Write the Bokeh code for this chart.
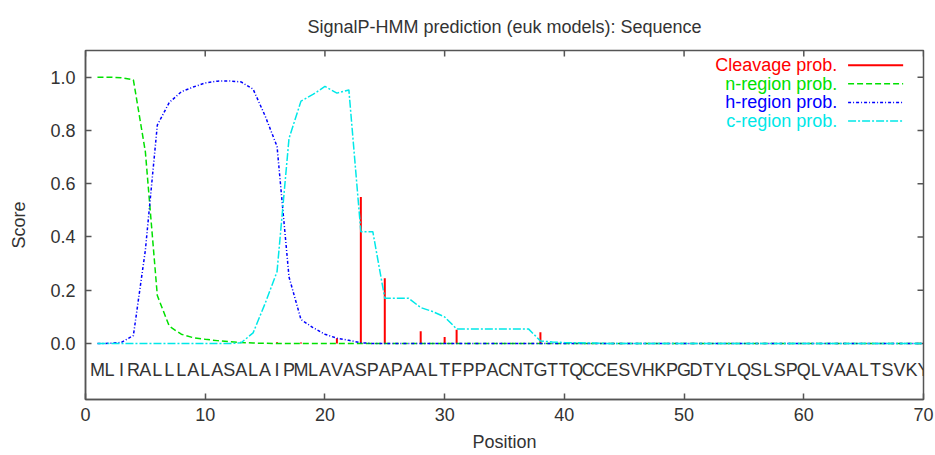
from bokeh.plotting import figure
from bokeh.models import FixedTicker, PrintfTickFormatter, ColumnDataSource
from bokeh.core.properties import value
from bokeh.embed import file_html
from bokeh.resources import INLINE

# ---------------- data ----------------
title_text = "SignalP-HMM prediction (euk models): Sequence"
sequence = list("MLIRALLLALASALAIPMLAVASPAPAALTFPPACNTGTTQCCESVHKPGDTYLQSLSPQLVAALTSVKY")
positions = list(range(1, 71))

cleavage = [0.0, 0.0, 0.0, 0.0, 0.0, 0.0, 0.0, 0.0, 0.0, 0.0,
            0.0, 0.0, 0.0, 0.0, 0.0, 0.005, 0.0, 0.004, 0.0, 0.0,
            0.02, 0.0, 0.55, 0.0, 0.245, 0.0, 0.0, 0.046, 0.0, 0.025,
            0.052, 0.0, 0.0, 0.0, 0.0, 0.0, 0.0, 0.042, 0.0, 0.0,
            0.0, 0.0, 0.0, 0.0, 0.0, 0.0, 0.0, 0.0, 0.0, 0.0,
            0.0, 0.0, 0.0, 0.0, 0.0, 0.0, 0.0, 0.0, 0.0, 0.0,
            0.0, 0.0, 0.0, 0.0, 0.0, 0.0, 0.0, 0.0, 0.0, 0.0]

n_region = [1.0, 1.0, 0.998, 0.99, 0.72, 0.18, 0.065, 0.035, 0.022, 0.016,
            0.011, 0.007, 0.004, 0.002, 0.001, 0.0, 0.0, 0.0, 0.0, 0.0,
            0.0, 0.0, 0.0, 0.0, 0.0, 0.0, 0.0, 0.0, 0.0, 0.0,
            0.0, 0.0, 0.0, 0.0, 0.0, 0.0, 0.0, 0.0, 0.0, 0.0,
            0.0, 0.0, 0.0, 0.0, 0.0, 0.0, 0.0, 0.0, 0.0, 0.0,
            0.0, 0.0, 0.0, 0.0, 0.0, 0.0, 0.0, 0.0, 0.0, 0.0,
            0.0, 0.0, 0.0, 0.0, 0.0, 0.0, 0.0, 0.0, 0.0, 0.0]

h_region = [0.0, 0.001, 0.004, 0.03, 0.35, 0.82, 0.905, 0.945, 0.963, 0.978,
            0.985, 0.986, 0.982, 0.955, 0.855, 0.74, 0.25, 0.09, 0.06, 0.035,
            0.02, 0.012, 0.003, 0.0, 0.0, 0.0, 0.0, 0.0, 0.0, 0.0,
            0.0, 0.0, 0.0, 0.0, 0.0, 0.0, 0.0, 0.0, 0.0, 0.0,
            0.0, 0.0, 0.0, 0.0, 0.0, 0.0, 0.0, 0.0, 0.0, 0.0,
            0.0, 0.0, 0.0, 0.0, 0.0, 0.0, 0.0, 0.0, 0.0, 0.0,
            0.0, 0.0, 0.0, 0.0, 0.0, 0.0, 0.0, 0.0, 0.0, 0.0]

c_region = [0.0, 0.0, 0.0, 0.0, 0.0, 0.0, 0.0, 0.0, 0.0, 0.0,
            0.0, 0.0, 0.003, 0.04, 0.15, 0.27, 0.77, 0.91, 0.935, 0.965,
            0.94, 0.952, 0.42, 0.42, 0.17, 0.17, 0.17, 0.135, 0.12, 0.10,
            0.055, 0.055, 0.055, 0.055, 0.055, 0.055, 0.055, 0.01, 0.006, 0.004,
            0.003, 0.002, 0.001, 0.0, 0.0, 0.0, 0.0, 0.0, 0.0, 0.0,
            0.0, 0.0, 0.0, 0.0, 0.0, 0.0, 0.0, 0.0, 0.0, 0.0,
            0.0, 0.0, 0.0, 0.0, 0.0, 0.0, 0.0, 0.0, 0.0, 0.0]

series_labels = ["Cleavage prob.", "n-region prob.", "h-region prob.", "c-region prob."]
x_ticks = [0, 10, 20, 30, 40, 50, 60, 70]
y_ticks = [0.0, 0.2, 0.4, 0.6, 0.8, 1.0]

# ---------------- style ----------------
FONT = "Liberation Sans"
TXT = "#333333"
AX = "#555555"
colors = ["#ff0000", "#00e000", "#0000ff", "#00e8e8"]
dashes = ["solid", "6 3", "3 2 1 2", "8 2 2 2"]
widths = [2, 1.5, 1.5, 1.5]

X_MIN, X_MAX = 0, 70
Y_MIN, Y_MAX = -0.21, 1.1
SEQ_Y = -0.1
TICK_LEN_X = 0.5      # mirrored tick length along x (data units ~6px)
TICK_LEN_Y = 0.0225   # mirrored tick length along y (data units ~6px)

p = figure(width=935, height=455, output_backend="svg", toolbar_location=None,
           x_range=(X_MIN, X_MAX), y_range=(Y_MIN, Y_MAX),
           min_border_left=85, min_border_right=12, min_border_top=49, min_border_bottom=56)
p.xgrid.visible = False
p.ygrid.visible = False
p.background_fill_color = "white"
p.border_fill_color = "white"
p.outline_line_color = AX
p.outline_line_width = 1.5

p.title.text = title_text
p.title.align = "center"
p.title.text_font = FONT
p.title.text_font_size = "18px"
p.title.text_font_style = "normal"
p.title.text_color = TXT
p.title.standoff = 28

def style_axis(ax):
    ax.axis_line_color = AX
    ax.axis_line_width = 1.5
    ax.major_tick_line_color = AX
    ax.major_tick_line_width = 1.5
    ax.major_tick_in = 6
    ax.major_tick_out = 0
    ax.minor_tick_line_color = None
    ax.major_label_text_font = FONT
    ax.major_label_text_font_size = "18px"
    ax.major_label_text_color = TXT
    ax.axis_label_text_font = FONT
    ax.axis_label_text_font_size = "18px"
    ax.axis_label_text_font_style = "normal"
    ax.axis_label_text_color = TXT

p.xaxis.ticker = FixedTicker(ticks=x_ticks)
p.yaxis.ticker = FixedTicker(ticks=y_ticks)
p.yaxis.formatter = PrintfTickFormatter(format="%.1f")
p.xaxis.axis_label = "Position"
p.yaxis.axis_label = "Score"
style_axis(p.xaxis[0])
style_axis(p.yaxis[0])
p.xaxis.major_label_standoff = 8
p.xaxis.axis_label_standoff = 8
p.yaxis.major_label_standoff = 10
p.yaxis.axis_label_standoff = 18

# mirrored ticks on top and right borders (gnuplot style)
p.segment(x0=x_ticks, y0=[Y_MAX] * len(x_ticks), x1=x_ticks,
          y1=[Y_MAX - TICK_LEN_Y] * len(x_ticks), line_color=AX, line_width=1.5)
p.segment(x0=[X_MAX] * len(y_ticks), y0=y_ticks, x1=[X_MAX - TICK_LEN_X] * len(y_ticks),
          y1=y_ticks, line_color=AX, line_width=1.5)

# ---------------- series ----------------
src = ColumnDataSource(dict(x=positions, cl=cleavage, n=n_region, h=h_region, c=c_region,
                            zero=[0.0] * len(positions), seq=sequence,
                            sy=[SEQ_Y] * len(positions)))

p.segment(x0="x", y0="zero", x1="x", y1="cl", source=src,
          line_color=colors[0], line_width=widths[0])
for key, col, dash, w in zip(["n", "h", "c"], colors[1:], dashes[1:], widths[1:]):
    p.line(x="x", y=key, source=src, line_color=col, line_dash=dash, line_width=w)

p.text(x="x", y="sy", text="seq", source=src, text_align="center", text_baseline="middle",
       text_font=value(FONT), text_font_size="18px", text_color=TXT)

# ---------------- legend (gnuplot style: text, then sample) ----------------
LEG_TEXT_X = 62.8
LEG_LINE_X0, LEG_LINE_X1 = 63.7, 68.3
LEG_Y0, LEG_DY = 1.045, 0.07
leg_y = [LEG_Y0 - i * LEG_DY for i in range(len(series_labels))]
p.text(x=[LEG_TEXT_X] * 4, y=leg_y, text=series_labels, text_align="right",
       text_baseline="middle", text_font=value(FONT), text_font_size="18px",
       text_color=colors)
for i in range(4):
    p.line(x=[LEG_LINE_X0, LEG_LINE_X1], y=[leg_y[i], leg_y[i]], line_color=colors[i],
           line_dash=dashes[i], line_width=widths[i])

open("out.html", "w").write(file_html(p, INLINE))
